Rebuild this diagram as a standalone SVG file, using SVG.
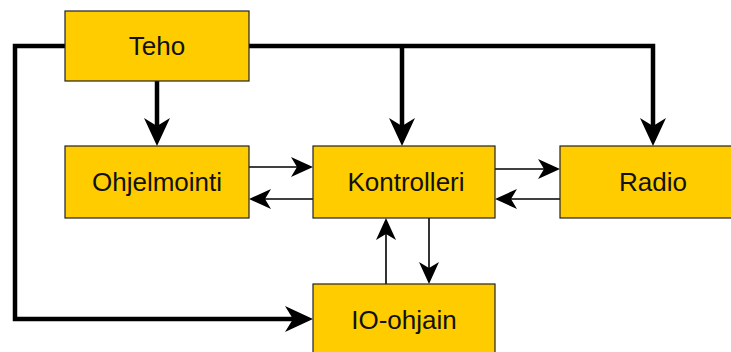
<svg xmlns="http://www.w3.org/2000/svg" width="731" height="352" viewBox="0 0 731 352">
<style>
.box{fill:#FFCC00;stroke:#222;stroke-width:1.2}
.lbl{font-family:"Liberation Sans",Arial,sans-serif;font-size:26px;fill:#111;text-anchor:middle}
.thick{fill:none;stroke:#000;stroke-width:4.5}
.thin{fill:none;stroke:#000;stroke-width:1.6}
</style>
<defs>
<marker id="ah" markerUnits="userSpaceOnUse" markerWidth="30" markerHeight="28" refX="8" refY="14" orient="auto" overflow="visible">
<path d="M28,14 L0,1 L8,14 L0,27 Z" fill="#000"/>
</marker>
<marker id="as" markerUnits="userSpaceOnUse" markerWidth="22" markerHeight="20" refX="6" refY="10" orient="auto" overflow="visible">
<path d="M22,10 L0,0 L6,10 L0,20 Z" fill="#000"/>
</marker>
</defs>
<rect width="731" height="352" fill="#fff"/>
<g id="connectors">
<path class="thick" d="M65,46 H15 V319 H293" marker-end="url(#ah)"/>
<path class="thick" d="M157,81 V126" marker-end="url(#ah)"/>
<path class="thick" d="M249,46 H653 V126" marker-end="url(#ah)"/>
<path class="thick" d="M402,46 V126" marker-end="url(#ah)"/>
<path class="thin" d="M249,167 H297" marker-end="url(#as)"/>
<path class="thin" d="M313,199 H265" marker-end="url(#as)"/>
<path class="thin" d="M495,169 H544" marker-end="url(#as)"/>
<path class="thin" d="M560,199 H511" marker-end="url(#as)"/>
<path class="thin" d="M386,284 V234" marker-end="url(#as)"/>
<path class="thin" d="M429,218 V268" marker-end="url(#as)"/>
</g>
<g id="teho"><rect class="box" x="65" y="11" width="184" height="70"/><text class="lbl" x="157" y="55">Teho</text></g>
<g id="ohjelmointi"><rect class="box" x="65" y="146" width="184" height="72"/><text class="lbl" x="157" y="191">Ohjelmointi</text></g>
<g id="kontrolleri"><rect class="box" x="313" y="146" width="182" height="72"/><text class="lbl" x="406" y="191">Kontrolleri</text></g>
<g id="radio"><rect class="box" x="560" y="146" width="186" height="72"/><text class="lbl" x="653" y="191">Radio</text></g>
<g id="io-ohjain"><rect class="box" x="313" y="284" width="182" height="72"/><text class="lbl" x="404" y="329">IO-ohjain</text></g>
</svg>
